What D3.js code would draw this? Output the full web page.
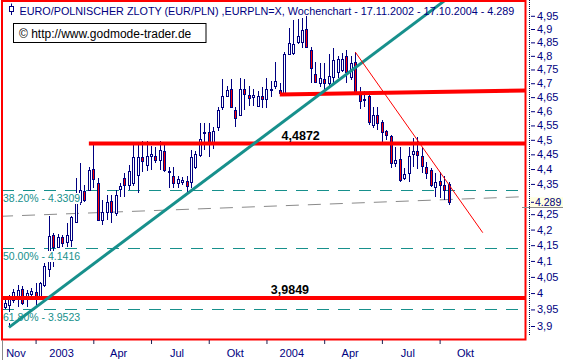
<!DOCTYPE html>
<html><head><meta charset="utf-8">
<script src="https://cdn.jsdelivr.net/npm/d3@7"></script>
<style>
body{margin:0;background:#fff;overflow:hidden}
svg{display:block;font-family:"Liberation Sans",Arial,sans-serif}
</style>
</head><body>
<svg id="c" width="563" height="360"></svg>
<script>
// ---------- data ----------
const startDate = "2002-11-17";   // first weekly candle, then every 7 days
const opens = [3.958,3.962,3.980,3.990,4.012,3.989,3.997,4.004,3.991,4.025,4.076,4.183,4.145,4.177,4.160,4.168,4.225,4.290,4.325,4.331,
4.400,4.352,4.232,4.258,4.293,4.255,4.333,4.370,4.348,4.352,4.380,4.442,4.413,4.444,4.444,4.430,4.462,4.395,4.378,4.354,
4.357,4.359,4.357,4.408,4.448,4.523,4.526,4.490,4.543,4.615,4.655,4.678,4.604,4.588,4.678,4.657,4.651,4.620,4.655,4.644,
4.678,4.690,4.675,4.663,4.806,4.812,4.852,4.852,4.899,4.820,4.735,4.700,4.716,4.700,4.723,4.740,4.748,4.798,4.723,4.778,
4.668,4.640,4.655,4.552,4.588,4.562,4.531,4.513,4.420,4.433,4.370,4.387,4.450,4.460,4.444,4.408,4.397,4.341,4.360,4.347,4.350];
const highs = [3.978,3.995,4.013,4.025,4.023,4.010,4.015,4.032,4.035,4.095,4.245,4.190,4.185,4.183,4.220,4.245,4.370,4.420,4.345,4.408,
4.487,4.370,4.297,4.313,4.313,4.330,4.352,4.385,4.413,4.490,4.490,4.497,4.497,4.480,4.475,4.497,4.490,4.408,4.408,4.378,
4.373,4.378,4.465,4.460,4.557,4.557,4.560,4.545,4.615,4.715,4.690,4.715,4.615,4.718,4.715,4.690,4.678,4.672,4.685,4.718,
4.708,4.778,4.700,4.815,4.903,4.934,4.937,4.940,4.949,4.834,4.778,4.772,4.772,4.806,4.828,4.800,4.810,4.820,4.800,4.815,
4.685,4.672,4.672,4.615,4.615,4.569,4.535,4.517,4.475,4.475,4.405,4.475,4.505,4.510,4.475,4.425,4.403,4.385,4.390,4.375,4.355];
const lows = [3.950,3.898,3.970,3.958,3.963,3.958,3.980,3.963,3.980,4.020,4.050,4.080,4.140,4.143,4.145,4.143,4.220,4.280,4.290,4.330,
4.336,4.230,4.215,4.232,4.220,4.243,4.308,4.308,4.330,4.343,4.320,4.390,4.395,4.397,4.420,4.397,4.390,4.337,4.337,4.337,
4.347,4.313,4.337,4.400,4.440,4.465,4.442,4.470,4.531,4.604,4.651,4.615,4.545,4.585,4.604,4.620,4.620,4.615,4.610,4.610,
4.651,4.678,4.659,4.660,4.803,4.803,4.844,4.830,4.828,4.700,4.700,4.687,4.672,4.687,4.700,4.720,4.740,4.700,4.710,4.660,
4.607,4.615,4.552,4.542,4.535,4.494,4.500,4.405,4.408,4.357,4.363,4.357,4.408,4.400,4.385,4.368,4.341,4.308,4.302,4.295,4.280];
const closes = [3.970,3.985,4.004,4.010,3.971,4.001,4.006,3.989,4.030,4.083,4.180,4.143,4.177,4.157,4.182,4.240,4.290,4.330,4.297,4.397,
4.366,4.232,4.258,4.291,4.258,4.313,4.342,4.347,4.392,4.442,4.440,4.427,4.445,4.451,4.430,4.465,4.397,4.390,4.354,4.368,
4.364,4.343,4.442,4.451,4.502,4.526,4.490,4.531,4.604,4.655,4.675,4.615,4.575,4.678,4.661,4.647,4.657,4.655,4.644,4.678,
4.679,4.708,4.666,4.806,4.846,4.845,4.874,4.896,4.834,4.754,4.704,4.720,4.700,4.725,4.785,4.787,4.787,4.740,4.772,4.668,
4.637,4.644,4.562,4.588,4.560,4.528,4.517,4.420,4.430,4.363,4.383,4.444,4.460,4.448,4.410,4.385,4.347,4.357,4.347,4.330,4.289];

const xTickDates = ["2003-01-05","2003-04-06","2003-07-06","2003-10-05","2004-01-04","2004-04-04","2004-07-04","2004-10-03"];
const xLabels = ["Nov","2003","Apr","Jul","Okt","2004","Apr","Jul","Okt"];
const xLabelDates = ["2002-12-05","2003-02-15","2003-05-16","2003-08-16","2003-11-16","2004-02-13","2004-05-15","2004-08-14","2004-11-13"];
const yTickValues = [4.95,4.9,4.85,4.8,4.75,4.7,4.65,4.6,4.55,4.5,4.45,4.4,4.35,4.3,4.25,4.2,4.15,4.1,4.05,4.0,3.95,3.9];
const yTickLabels = ["4,95","4,9","4,85","4,8","4,75","4,7","4,65","4,6","4,55","4,5","4,45","4,4","4,35","4,3","4,25","4,2","4,15","4,1","4,05","4","3,95","3,9"];

const fibLevels = [4.3309, 4.1416, 3.9523];
const fibLabels = ["38.20% - 4.3309", "50.00% - 4.1416", "61.80% - 3.9523"];
const levelValues = [4.4872, 3.9849];
const levelStart = ["2003-03-30", "2002-11-10"];
const levelLabels = ["4,4872", "3,9849"];
const levelLabelDates = ["2004-02-27", "2004-02-10"];
const upperLine = [["2004-01-25", 4.659], ["2005-02-20", 4.674]];
const greyLine = [["2002-11-10", 4.243], ["2005-02-20", 4.308]];
const upTrend = [["2002-11-24", 3.896], ["2004-10-12", 5.010]];
const downTrend = [["2004-05-23", 4.814], ["2004-12-10", 4.190]];
const lastPrice = 4.289;
const lastPriceLabel = "4.289";
const titleText = "EURO/POLNISCHER ZLOTY (EUR/PLN) ,EURPLN=X, Wochenchart - 17.11.2002 - 17.10.2004 - 4.289";
const copyText = "\u00A9 http://www.godmode-trader.de";

// ---------- setup ----------
const parse = d3.timeParse("%Y-%m-%d");
const dates = opens.map((_, i) => d3.timeDay.offset(parse(startDate), 7 * i));
const candles = opens.map((o, i) => ({date: dates[i], o, h: highs[i], l: lows[i], c: closes[i]}));

const L = 2, R = 525.5, T = 1, B = 339.5;
const x = d3.scaleTime().domain([parse("2002-11-17"), parse("2004-10-17")]).range([4.5, 448.5]);
const y = d3.scaleLog().domain([3.9, 4.9]).range([326, 29]);

const NAVY = "#000080", RED = "#ff0000", TEAL = "#17908c";
const svg = d3.select("#c");

svg.append("defs").append("clipPath").attr("id", "plot")
  .append("rect").attr("x", L).attr("y", T).attr("width", R - L).attr("height", B - T);

const plot = svg.append("g").attr("clip-path", "url(#plot)");

// fib dashed lines
plot.selectAll(".fib").data(fibLevels).join("line")
  .attr("x1", L).attr("x2", R)
  .attr("y1", d => Math.round(y(d)) + 0.5).attr("y2", d => Math.round(y(d)) + 0.5)
  .attr("stroke", TEAL).attr("stroke-width", 1).attr("stroke-dasharray", "12,9");

// grey dashed line
const lineGen = d3.line().x(d => x(parse(d[0]))).y(d => y(d[1]));
plot.append("path").attr("d", lineGen(greyLine)).attr("fill", "none")
  .attr("stroke", "#8a8a8a").attr("stroke-width", 1).attr("stroke-dasharray", "13,9");

// candles
const cg = plot.append("g").attr("shape-rendering", "crispEdges");
candles.forEach(d => {
  const px = Math.round(x(d.date));
  cg.append("line").attr("x1", px + 0.5).attr("x2", px + 0.5)
    .attr("y1", y(d.h)).attr("y2", y(d.l)).attr("stroke", NAVY).attr("stroke-width", 1);
  const yt = Math.round(y(Math.max(d.o, d.c))) + 0.5;
  const yb = Math.round(y(Math.min(d.o, d.c))) + 0.5;
  cg.append("rect").attr("x", px - 0.5).attr("width", 2)
    .attr("y", yt).attr("height", Math.max(1, yb - yt))
    .attr("fill", d.c >= d.o ? "#ffffff" : RED)
    .attr("stroke", NAVY).attr("stroke-width", 1);
});

// fib labels with white background
fibLevels.forEach((v, i) => {
  const base = Math.round(y(v)) + 12;
  const t = plot.append("text").attr("x", 3).attr("y", base)
    .attr("font-size", "10.5px").attr("fill", TEAL).text(fibLabels[i]);
  const bb = t.node().getBBox();
  plot.insert("rect", () => t.node()).attr("x", bb.x).attr("y", base - 9)
    .attr("width", bb.width).attr("height", 11).attr("fill", "#fff");
});

// thick red levels
levelValues.forEach((v, i) => {
  plot.append("line").attr("x1", x(parse(levelStart[i]))).attr("x2", R)
    .attr("y1", y(v)).attr("y2", y(v)).attr("stroke", RED).attr("stroke-width", 4);
});
plot.append("path").attr("d", lineGen(upperLine)).attr("fill", "none")
  .attr("stroke", RED).attr("stroke-width", 4);

// up trend line
plot.append("path").attr("d", lineGen(upTrend)).attr("fill", "none")
  .attr("stroke", TEAL).attr("stroke-width", 3);

// down trend line
plot.append("path").attr("d", lineGen(downTrend)).attr("fill", "none")
  .attr("stroke", RED).attr("stroke-width", 1);

// level labels
levelValues.forEach((v, i) => {
  plot.append("text").attr("x", x(parse(levelLabelDates[i]))).attr("y", y(v) - 3.5)
    .attr("text-anchor", "middle").attr("font-size", "12.5px").attr("font-weight", "bold")
    .attr("fill", "#000").text(levelLabels[i]);
});

// border
svg.append("rect").attr("x", L).attr("y", T).attr("width", R - L).attr("height", B - T)
  .attr("fill", "none").attr("stroke", RED).attr("stroke-width", 2);

// title
svg.append("rect").attr("x", 9.5).attr("y", 6.5).attr("width", 4).attr("height", 5)
  .attr("fill", "none").attr("stroke", NAVY);
svg.append("line").attr("x1", 11.5).attr("x2", 11.5).attr("y1", 3.5).attr("y2", 6.5).attr("stroke", NAVY);
svg.append("line").attr("x1", 11.5).attr("x2", 11.5).attr("y1", 11.5).attr("y2", 15).attr("stroke", NAVY);
svg.append("text").attr("x", 19.5).attr("y", 15).attr("font-size", "10.8px").attr("fill", NAVY).text(titleText);

// copyright box
svg.append("rect").attr("x", 13.5).attr("y", 23.5).attr("width", 192.5).attr("height", 19)
  .attr("fill", "#fff").attr("stroke", "#000").attr("stroke-width", 1);
svg.append("text").attr("x", 19).attr("y", 37.5).attr("font-size", "12px").attr("fill", "#000").text(copyText);

// right axis
const yl = y(lastPrice);
svg.append("line").attr("x1", 529.5).attr("x2", 529.5).attr("y1", 0).attr("y2", 336)
  .attr("stroke", "#000040").attr("stroke-dasharray", "1,1");
const ya = svg.append("g").attr("transform", "translate(531,0)")
  .call(d3.axisRight(y).tickValues(yTickValues).tickFormat((d, i) => yTickLabels[i]).tickSize(4).tickPadding(2));
ya.select(".domain").remove();
ya.selectAll("line").attr("stroke", NAVY);
ya.selectAll("text").attr("fill", NAVY).attr("font-size", "11px").attr("font-family", "Liberation Sans, Arial, sans-serif");
// tick label hidden behind the last-price marker (as in the reference)
ya.selectAll(".tick").filter(d => Math.abs(y(d) - yl) < 8).select("text").remove();

// last price marker
svg.append("rect").attr("x", 530).attr("y", yl - 5).attr("width", 33).attr("height", 10).attr("fill", "#ffffe1");
svg.append("line").attr("x1", 522).attr("x2", 563).attr("y1", Math.round(yl + 5) + 0.5).attr("y2", Math.round(yl + 5) + 0.5)
  .attr("stroke", "#8a8a8a");
svg.append("line").attr("x1", 531).attr("x2", 534).attr("y1", yl).attr("y2", yl).attr("stroke", NAVY);
svg.append("text").attr("x", 535).attr("y", yl).attr("dy", "0.35em").attr("font-size", "10.5px")
  .attr("fill", NAVY).text(lastPriceLabel);

// bottom axis
const xa = svg.append("g").attr("transform", "translate(0,340)")
  .call(d3.axisBottom(x).tickValues(xTickDates.map(parse)).tickSize(4).tickFormat(""));
xa.select(".domain").remove();
xa.selectAll("line").attr("stroke", "#202050");
svg.append("line").attr("x1", 2.5).attr("x2", 2.5).attr("y1", 340).attr("y2", 360).attr("stroke", "#8a8a8a");
svg.selectAll(".xl").data(xLabels).join("text")
  .attr("x", (d, i) => x(parse(xLabelDates[i]))).attr("y", 357)
  .attr("text-anchor", "middle").attr("font-size", "11px").attr("fill", NAVY).text(d => d);
</script>
</body></html>
